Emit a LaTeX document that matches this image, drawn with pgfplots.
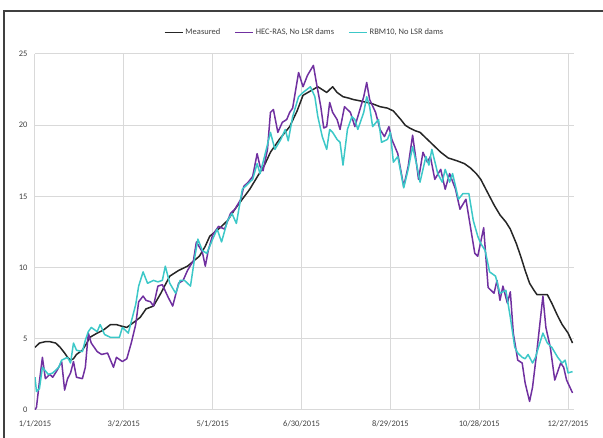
\documentclass[border=0pt]{standalone}
\usepackage{pgfplots}
\pgfplotsset{compat=1.18}
\usepackage{pgfplotstable}
\usepackage{fontspec}
\setmainfont{Carlito}

\definecolor{hecpurple}{HTML}{7030A0}
\definecolor{rbmcyan}{HTML}{3CC8C8}
\definecolor{gridgray}{HTML}{D9D9D9}
\definecolor{labelgray}{HTML}{404040}

% day of year (0 = 1/1/2015), temperature
\pgfplotstableread{
day val
0 4.4
3 4.7
7 4.8
10 4.8
14 4.7
17 4.4
20 4.0
22 3.7
24 3.5
26 3.6
28 3.9
32 4.2
35 4.7
37 5.1
42 5.4
46 5.6
51 6.0
55 6.0
58 5.9
62 5.8
66 6.1
71 6.5
75 7.1
80 7.3
85 8.2
91 9.4
97 9.8
103 10.1
111 10.8
115 11.5
118 12.2
125 12.8
130 13.3
135 14.1
140 14.8
145 15.5
152 16.7
155 17.2
159 18.1
165 19.0
172 19.9
177 21.0
181 22.1
186 22.4
191 22.7
194 22.5
197 22.3
201 22.7
204 22.3
208 22.0
212 21.9
215 21.8
220 21.7
224 21.6
228 21.5
233 21.3
238 21.2
242 21.0
247 20.4
250 20.0
253 19.8
257 19.6
260 19.5
264 19.1
267 18.8
271 18.4
274 18.1
279 17.7
285 17.5
290 17.3
294 17.0
298 16.6
301 16.2
304 15.6
307 15.0
310 14.4
314 13.7
318 13.2
321 12.7
325 11.7
328 10.8
331 9.8
334 8.9
337 8.4
339 8.1
343 8.1
346 8.1
349 7.5
353 6.6
356 6.0
360 5.4
363 4.7
}\measured

\pgfplotstableread{
day val
0 0.0
1 0.2
3 2.0
5 3.7
7 2.2
10 2.5
12 2.3
15 2.8
18 3.4
20 1.4
22 2.2
24 2.6
26 3.4
28 2.3
32 2.2
34 3.0
36 5.4
38 4.7
42 4.1
45 3.9
49 4.0
53 3.0
55 3.7
59 3.4
62 3.6
65 4.7
68 6.0
70 7.6
73 8.0
75 7.7
78 7.6
80 7.3
83 8.7
86 8.8
90 7.9
93 7.3
97 8.9
100 9.1
103 9.8
107 10.5
109 11.8
113 11.1
115 10.1
117 11.2
120 12.3
124 12.9
128 12.7
132 13.8
135 14.1
139 14.8
141 15.7
144 16.0
147 16.4
150 18.0
152 17.1
154 16.8
157 18.3
159 20.9
161 21.1
164 19.5
167 20.2
170 20.4
172 20.9
174 21.2
178 23.7
181 22.7
184 23.5
188 24.2
190 23.0
193 21.3
195 19.8
197 19.9
199 21.6
201 20.9
204 20.4
206 19.7
209 21.3
213 20.9
216 19.9
220 21.3
222 22.0
224 23.0
226 21.8
230 20.9
233 19.7
236 19.2
239 19.9
241 19.0
243 18.5
245 18.0
249 15.7
252 17.1
255 19.3
257 17.8
259 16.2
262 18.1
265 17.4
267 17.8
270 16.2
274 16.9
277 15.5
280 16.6
284 15.5
287 14.1
291 14.8
294 12.9
297 11.0
299 10.8
303 12.8
306 8.6
310 8.2
312 9.1
314 7.7
316 8.7
319 7.5
321 8.3
323 5.4
326 3.5
329 3.3
331 1.9
334 0.6
336 1.6
339 4.2
343 8.0
345 5.8
348 4.4
351 2.1
355 3.3
357 3.0
359 2.1
363 1.2
}\hecras

\pgfplotstableread{
day val
0 2.3
1 1.3
3 1.5
5 3.0
9 2.5
12 2.6
16 3.0
18 3.5
22 3.7
24 3.3
26 4.7
28 4.2
32 4.1
34 4.9
36 5.5
38 5.8
42 5.5
44 6.0
47 5.3
51 5.1
54 5.1
57 5.1
59 5.8
63 5.4
65 6.2
68 7.4
70 8.7
73 9.7
76 8.9
80 9.1
83 9.0
86 9.1
88 10.1
91 8.9
95 8.2
98 9.1
101 9.1
105 8.7
108 10.8
110 12.0
113 11.2
116 11.0
120 12.0
123 12.7
126 11.8
130 13.3
133 13.8
136 13.1
140 15.5
143 15.8
147 16.2
150 17.3
152 16.6
155 17.8
159 19.5
162 18.3
166 19.0
169 19.7
171 18.9
174 20.6
178 22.0
181 22.3
186 22.7
189 22.0
191 20.6
194 19.2
197 18.3
199 19.7
201 19.5
204 19.0
206 18.8
208 17.2
211 19.7
214 20.6
216 20.4
218 19.7
222 20.9
224 22.0
226 21.3
228 19.9
232 20.4
234 18.8
238 19.0
240 19.5
242 17.4
245 17.8
249 15.6
252 16.9
255 18.5
258 17.1
260 16.0
264 17.8
266 17.2
268 18.3
272 16.6
275 16.0
277 16.9
280 16.0
282 16.6
286 14.8
289 15.2
293 15.2
296 13.3
299 12.2
301 11.7
304 11.2
307 9.7
311 9.4
314 8.2
318 8.4
321 6.5
324 4.4
326 4.0
329 3.7
331 3.6
333 3.9
336 3.3
338 3.7
340 4.4
343 5.4
346 4.7
349 4.4
353 3.7
356 3.3
358 3.5
360 2.6
363 2.7
}\rbm

\begin{document}
\begin{tikzpicture}
\begin{axis}[
    at={(0,0)}, anchor=south west,
    scale only axis,
    width=539bp, height=356bp,
    xmin=0, xmax=364, ymin=0, ymax=25,
    xtick={0,60,...,360},
    xticklabels={1/1/2015,3/2/2015,5/1/2015,6/30/2015,8/29/2015,10/28/2015,12/27/2015},
    ytick={0,5,...,25},
    grid=major,
    grid style={gridgray, line width=1bp},
    axis line style={draw=none},
    major tick length=0pt,
    /pgf/number format/assume math mode=true,
    tick label style={font=\fontsize{8.5}{10}\selectfont, text=labelgray},
    yticklabel style={xshift=-4bp},
    xticklabel style={yshift=-7bp},
    legend style={at={(0.5,1.06)}, anchor=center, draw=none, fill=none,
        font=\fontsize{8.5}{10}\selectfont, text=labelgray,
        /tikz/every even column/.append style={column sep=12bp}},
    legend columns=-1,
    legend image code/.code={\draw[#1, line width=1.6bp] (0bp,0bp) -- (18bp,0bp);},
    every axis plot/.append style={line width=1.5bp, line join=round},
]
\addplot[black!85] table[x=day, y=val] {\measured};
\addlegendentry{Measured}
\addplot[hecpurple] table[x=day, y=val] {\hecras};
\addlegendentry{HEC-RAS, No LSR dams}
\addplot[rbmcyan] table[x=day, y=val] {\rbm};
\addlegendentry{RBM10, No LSR dams}
\end{axis}
\draw[black!75, line width=1.8bp] (-31bp,-40bp) -- (-31bp,399bp) -- (620bp,399bp);
\pgfresetboundingbox
\useasboundingbox (-35bp,-28bp) rectangle (568bp,410bp);
\end{tikzpicture}
\end{document}
